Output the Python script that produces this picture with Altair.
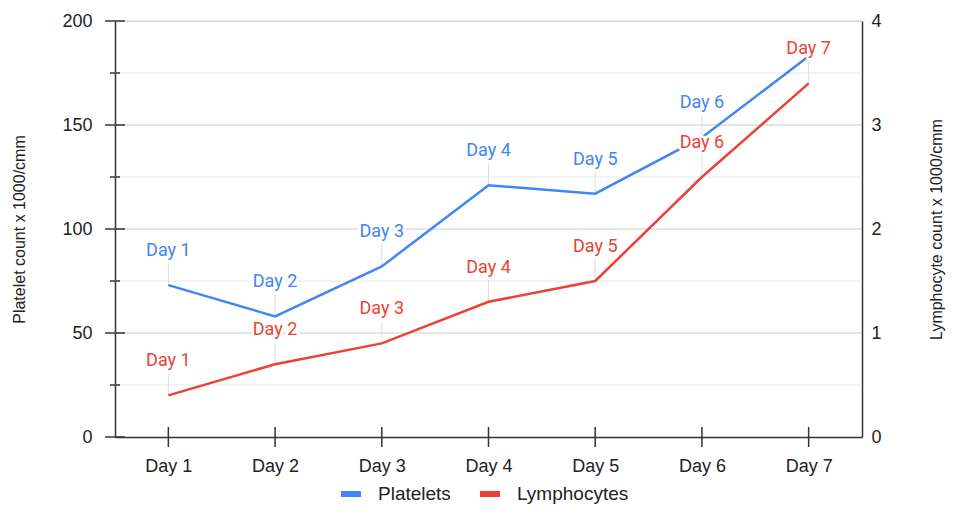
import altair as alt
import pandas as pd

# ---------------- data ----------------
days = ["Day 1", "Day 2", "Day 3", "Day 4", "Day 5", "Day 6", "Day 7"]
platelets = [73, 58, 82, 121, 117, 144, 183]
lymphocytes = [0.4, 0.7, 0.9, 1.3, 1.5, 2.5, 3.4]
platelet_label_visible = [True, True, True, True, True, True, False]
lymph_label_visible = [True, True, True, True, True, True, True]

left_major_ticks = [0, 50, 100, 150, 200]
left_minor_ticks = [25, 75, 125, 175]
right_ticks = [0, 1, 2, 3, 4]

series_names = ["Platelets", "Lymphocytes"]
series_colors = ["#4285F4", "#EA4335"]
left_title = "Platelet count x 1000/cmm"
right_title = "Lymphocyte count x 1000/cmm"

# ---------------- tables ----------------
plt_df = pd.DataFrame({"day": days, "value": platelets, "series": series_names[0],
                       "show": platelet_label_visible})
lym_df = pd.DataFrame({"day": days, "value": lymphocytes, "series": series_names[1],
                       "show": lymph_label_visible})
major_df = pd.DataFrame({"v": left_major_ticks})
minor_df = pd.DataFrame({"v": left_minor_ticks})
grid_major_df = pd.DataFrame({"v": [v for v in left_major_ticks if v != 0]})

W, H = 747, 416
FONT = "Liberation Sans, Arial, sans-serif"
LBL_FONT = "Roboto"
AXIS_COLOR = "#333333"

left_scale = alt.Scale(domain=[0, 200], nice=False, zero=True)
right_scale = alt.Scale(domain=[0, 4], nice=False, zero=True)

x_enc = alt.X(
    "day:N", sort=days, scale=alt.Scale(type="point", padding=0.5),
    axis=alt.Axis(title=None, ticks=False, tickSize=0, labelPadding=20, labelAngle=0,
                  labelFontSize=18, labelFont=FONT, labelColor="#222222",
                  domain=True, domainColor=AXIS_COLOR, domainWidth=1.5, grid=False),
)

left_axis = alt.Axis(orient="left", values=left_major_ticks, title=left_title,
                     ticks=False, tickSize=0, labelPadding=23, grid=False,
                     domain=True, domainColor=AXIS_COLOR, domainWidth=1.5,
                     labelFontSize=18, labelFont=FONT, labelColor="#222222",
                     titleFontSize=16, titleFont=FONT, titleFontWeight="normal",
                     titleColor="#222222", titlePadding=34)
right_axis = alt.Axis(orient="right", values=right_ticks, title=right_title,
                      ticks=False, tickSize=0, labelPadding=9, grid=False,
                      domain=True, domainColor=AXIS_COLOR, domainWidth=1.5,
                      labelFontSize=18, labelFont=FONT, labelColor="#222222",
                      titleFontSize=16, titleFont=FONT, titleFontWeight="normal",
                      titleColor="#222222", titleAngle=270, titleBaseline="top",
                      titlePadding=47)

color_enc = alt.Color(
    "series:N", scale=alt.Scale(domain=series_names, range=series_colors),
    legend=alt.Legend(orient="none", legendX=223, legendY=460, direction="horizontal",
                      title=None, symbolType="M-1,0L1,0", symbolSize=400,
                      symbolStrokeWidth=6, labelFontSize=19, labelFont=FONT,
                      labelColor="#222222", labelOffset=14, columnPadding=17),
)

# gridlines
grid_minor = alt.Chart(minor_df).mark_rule(color="#e6e6e6", strokeWidth=1).encode(
    y=alt.Y("v:Q", scale=left_scale, axis=None), x=alt.value(0), x2=alt.value(W))
grid_major = alt.Chart(grid_major_df).mark_rule(color="#cccccc", strokeWidth=1).encode(
    y=alt.Y("v:Q", scale=left_scale, axis=None), x=alt.value(0), x2=alt.value(W))

# left axis ticks (crossing the axis line)
ticks_major = alt.Chart(major_df).mark_rule(color=AXIS_COLOR, strokeWidth=1.5).encode(
    y=alt.Y("v:Q", scale=left_scale, axis=None), x=alt.value(-10), x2=alt.value(10))
ticks_minor = alt.Chart(minor_df).mark_rule(color=AXIS_COLOR, strokeWidth=1.5).encode(
    y=alt.Y("v:Q", scale=left_scale, axis=None), x=alt.value(-5), x2=alt.value(5))
ticks_x = alt.Chart(plt_df).mark_rule(color=AXIS_COLOR, strokeWidth=1.5).encode(
    x=x_enc, y=alt.value(H - 10), y2=alt.value(H + 10))

# leader lines
lead_p = alt.Chart(plt_df).transform_filter("datum.show").mark_rule(
    color="#dcdcdc", strokeWidth=1, y2Offset=-22).encode(
    x=x_enc, y=alt.Y("value:Q", scale=left_scale, axis=None), y2="value:Q")
lead_l = alt.Chart(lym_df).transform_filter("datum.show").mark_rule(
    color="#dcdcdc", strokeWidth=1, y2Offset=-22).encode(
    x=x_enc, y=alt.Y("value:Q", scale=right_scale, axis=None), y2="value:Q")

# lines
line_p = alt.Chart(plt_df).mark_line(strokeWidth=2.5).encode(
    x=x_enc, y=alt.Y("value:Q", scale=left_scale, axis=left_axis), color=color_enc)
line_l = alt.Chart(lym_df).mark_line(strokeWidth=2.5).encode(
    x=x_enc, y=alt.Y("value:Q", scale=right_scale, axis=right_axis), color=color_enc)

# labels with white halo
def labels(df, scale, col, halo):
    kw = dict(dy=-29, baseline="alphabetic", align="center", font=LBL_FONT, fontSize=18)
    if halo:
        kw.update(fill="white", stroke="white", strokeWidth=5, strokeJoin="round")
    else:
        kw.update(color=col)
    return alt.Chart(df).transform_filter("datum.show").mark_text(**kw).encode(
        x=x_enc, y=alt.Y("value:Q", scale=scale, axis=None), text="day:N")

chart = alt.layer(
    grid_minor, grid_major, ticks_major, ticks_minor, ticks_x,
    lead_p, lead_l, line_p, line_l,
    labels(plt_df, left_scale, series_colors[0], True),
    labels(lym_df, right_scale, series_colors[1], True),
    labels(plt_df, left_scale, series_colors[0], False),
    labels(lym_df, right_scale, series_colors[1], False),
).resolve_scale(y="independent").properties(
    width=W, height=H,
    padding={"left": 107, "top": 13, "right": 84, "bottom": 72},
    autosize=alt.AutoSizeParams(type="none"),
).configure_view(stroke=None).configure(background="white")

chart.save("out.html", embed_options={"renderer": "svg", "actions": False})
